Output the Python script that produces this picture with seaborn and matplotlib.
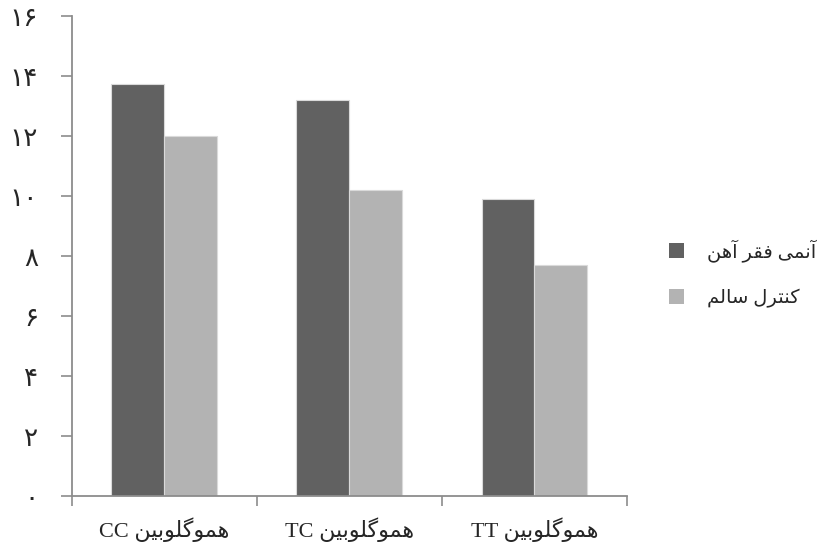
import re
import matplotlib
matplotlib.use("Agg")
import matplotlib.pyplot as plt
from matplotlib.patches import Patch
from matplotlib.ticker import FixedLocator
import pandas as pd
import seaborn as sns

# ---- data ----
categories = ["هموگلوبین CC", "هموگلوبین TC", "هموگلوبین TT"]
series_names = ["آنمی فقر آهن", "کنترل سالم"]
anemia_values = [13.74, 13.19, 9.89]
control_values = [12.0, 10.2, 7.69]
y_ticks = [0, 2, 4, 6, 8, 10, 12, 14, 16]

series_colors = ["#616161", "#b3b3b3"]

# ---- minimal Persian shaping (matplotlib draws glyphs left to right, unshaped) ----
FORMS = {
    "\u0622": ("\uFE81", "\uFE82", None, None),
    "\u0627": ("\uFE8D", "\uFE8E", None, None),
    "\u0628": ("\uFE8F", "\uFE90", "\uFE91", "\uFE92"),
    "\u062A": ("\uFE95", "\uFE96", "\uFE97", "\uFE98"),
    "\u0631": ("\uFEAD", "\uFEAE", None, None),
    "\u0633": ("\uFEB1", "\uFEB2", "\uFEB3", "\uFEB4"),
    "\u0641": ("\uFED1", "\uFED2", "\uFED3", "\uFED4"),
    "\u0642": ("\uFED5", "\uFED6", "\uFED7", "\uFED8"),
    "\u0644": ("\uFEDD", "\uFEDE", "\uFEDF", "\uFEE0"),
    "\u0645": ("\uFEE1", "\uFEE2", "\uFEE3", "\uFEE4"),
    "\u0646": ("\uFEE5", "\uFEE6", "\uFEE7", "\uFEE8"),
    "\u0647": ("\uFEE9", "\uFEEA", "\uFEEB", "\uFEEC"),
    "\u0648": ("\uFEED", "\uFEEE", None, None),
    "\u06A9": ("\uFB8E", "\uFB8F", "\uFB90", "\uFB91"),
    "\u06AF": ("\uFB92", "\uFB93", "\uFB94", "\uFB95"),
    "\u06CC": ("\uFBFC", "\uFBFD", "\uFBFE", "\uFBFF"),
}


def _dual(ch):
    return ch in FORMS and FORMS[ch][2] is not None


def shape_word(word):
    out = []
    for i, ch in enumerate(word):
        if ch not in FORMS:
            out.append(ch)
            continue
        prev_join = i > 0 and _dual(word[i - 1])
        next_join = _dual(ch) and i + 1 < len(word) and word[i + 1] in FORMS
        iso, fin, ini, med = FORMS[ch]
        if prev_join and next_join:
            out.append(med)
        elif prev_join:
            out.append(fin)
        elif next_join:
            out.append(ini)
        else:
            out.append(iso)
    return "".join(out)


def rtl(text):
    tokens = re.findall(r"[\u0621-\u06D5]+|[^\u0621-\u06D5\s]+|\s+", text)
    visual = []
    for tok in reversed(tokens):
        if re.match(r"[\u0621-\u06D5]", tok):
            visual.append(shape_word(tok)[::-1])
        else:
            visual.append(tok)
    return "".join(visual)


def fa_digits(n):
    return str(n).translate(str.maketrans("0123456789", "۰۱۲۳۴۵۶۷۸۹"))


# ---- table for seaborn ----
df = pd.DataFrame({
    "category": categories * 2,
    "series": [series_names[0]] * 3 + [series_names[1]] * 3,
    "value": anemia_values + control_values,
})

sns.set_theme(style="white")
plt.rcParams["font.family"] = ["Liberation Serif", "DejaVu Sans"]

fig = plt.figure(figsize=(8.22, 5.45), dpi=100)
ax = fig.add_axes([0.087, 0.0908, 0.6758, 0.8798])

sns.barplot(
    data=df, x="category", y="value", hue="series",
    palette=series_colors, width=0.57, gap=0, ax=ax,
    edgecolor="#dadada", linewidth=0.8, saturation=1, legend=False,
    errorbar=None,
)

ax.set_xlim(-0.5, 2.5)
ax.set_ylim(0, 16)
ax.set_xlabel("")
ax.set_ylabel("")

spine_color = "#8c8c8c"
for side in ["top", "right"]:
    ax.spines[side].set_visible(False)
for side in ["left", "bottom"]:
    ax.spines[side].set_color(spine_color)
    ax.spines[side].set_linewidth(1.3)

# y axis: Persian numerals
ax.set_yticks(y_ticks)
ax.set_yticklabels([fa_digits(v) for v in y_ticks], fontsize=19,
                   family=["DejaVu Sans"])
ax.tick_params(axis="y", direction="out", length=8, width=1.2,
               color=spine_color, pad=16, left=True)

# x axis: boundary ticks, labels centred under groups
ax.xaxis.set_major_locator(FixedLocator([-0.5, 0.5, 1.5, 2.5]))
ax.xaxis.set_minor_locator(FixedLocator([0, 1, 2]))
ax.set_xticklabels([])
ax.set_xticks([0, 1, 2], minor=True)
ax.set_xticklabels([rtl(c) for c in categories], minor=True, fontsize=16)
ax.tick_params(axis="x", which="major", direction="out", length=7, width=1.2,
               color=spine_color, bottom=True)
ax.tick_params(axis="x", which="minor", length=0, pad=16)

# legend
handles = [Patch(facecolor=c, edgecolor="none") for c in series_colors]
fig.legend(
    handles, [rtl(s) for s in series_names],
    loc="center left", bbox_to_anchor=(0.8139, 0.498),
    frameon=False, fontsize=14, handlelength=0.77, handleheight=0.77,
    handletextpad=1.2, labelspacing=1.4, borderpad=0, borderaxespad=0,
)

fig.savefig("out.png", dpi=100)
